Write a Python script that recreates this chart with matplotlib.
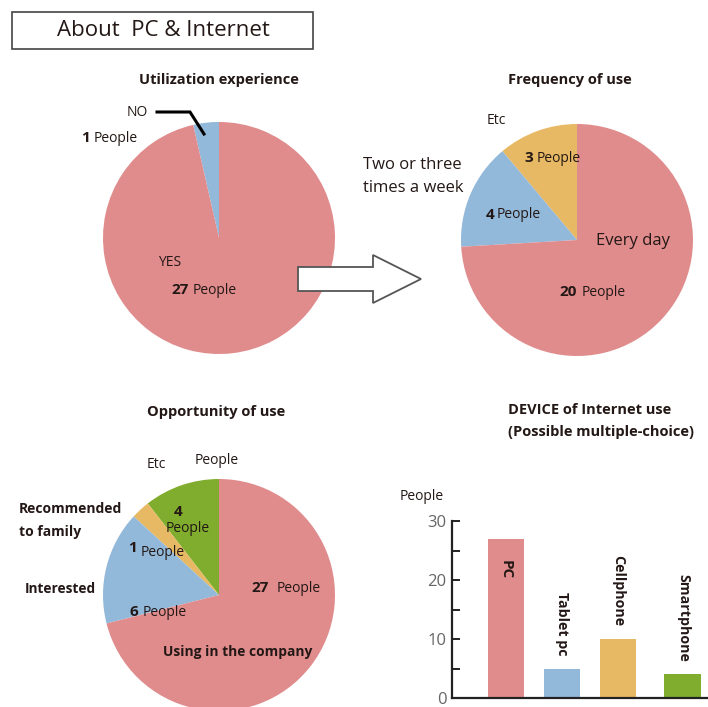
import matplotlib
matplotlib.use("Agg")
import matplotlib.pyplot as plt
from matplotlib.patches import Rectangle, Polygon

plt.rcParams["font.family"] = ["Open Sans", "DejaVu Sans"]

W, H = 708, 707

# --- data -------------------------------------------------------------
experience_labels = ["NO", "YES"]
experience_values = [1, 27]

frequency_labels = ["Etc", "Two or three times a week", "Every day"]
frequency_values = [3, 4, 20]

opportunity_labels = ["Etc", "Recommended to family", "Interested", "Using in the company"]
opportunity_values = [4, 1, 6, 27]

device_labels = ["PC", "Tablet pc", "Cellphone", "Smartphone"]
device_values = [27, 5, 10, 4]

RED, BLUE, YELLOW, GREEN = "#E08C8D", "#92B8DA", "#E7B964", "#80AD2D"
TXT = "#231815"

fig = plt.figure(figsize=(W / 100, H / 100), dpi=100)


def box(x0, y0, w, h):
    """Axes rectangle from pixel box (top-left origin)."""
    return [x0 / W, 1 - (y0 + h) / H, w / W, h / H]


def pie_axes(cx, cy, r, values, colors):
    ax = fig.add_axes(box(cx - r, cy - r, 2 * r, 2 * r))
    ax.pie(values, colors=colors, startangle=90, counterclock=True,
           radius=1, wedgeprops=dict(linewidth=0))
    ax.set_xlim(-1, 1)
    ax.set_ylim(-1, 1)
    ax.set_aspect("equal")
    ax.axis("off")
    return ax


pie_axes(219, 238, 116, experience_values, [BLUE, RED])
pie_axes(577, 240, 116, frequency_values, [YELLOW, BLUE, RED])
pie_axes(219, 595, 116, opportunity_values, [GREEN, YELLOW, BLUE, RED])

# --- bar chart ----------------------------------------------------------
bar_pos = [0, 1, 2, 3.16]
bx = fig.add_axes(box(452, 521, 256, 177))
bx.bar(bar_pos, device_values, width=0.66, color=[RED, BLUE, YELLOW, GREEN])
bx.set_xlim(-0.964, 3.607)
bx.set_ylim(0, 30)
bx.set_yticks([0, 10, 20, 30])
bx.set_yticks([5, 15, 25], minor=True)
bx.set_xticks([])
for s in ("top", "right"):
    bx.spines[s].set_visible(False)
for s in ("left", "bottom"):
    bx.spines[s].set_linewidth(1.6)
    bx.spines[s].set_color("#222222")
bx.spines["bottom"].set_clip_on(False)
bx.tick_params(axis="y", which="both", direction="in", length=6, width=1.4,
               color="#222222", labelsize=12, labelcolor="#666666", pad=4)
bx.patch.set_alpha(0)
for i, (lab, v) in enumerate(zip(device_labels, device_values)):
    if i == 0:
        bx.annotate(lab, (bar_pos[i], v), xytext=(0, -15), textcoords="offset points",
                    rotation=-90, ha="center", va="top", fontsize=11,
                    fontweight="bold", color=TXT)
    else:
        bx.annotate(lab, (bar_pos[i], v), xytext=(0, 9), textcoords="offset points",
                    rotation=-90, ha="center", va="bottom", fontsize=10.2,
                    fontweight="bold", color=TXT)

# --- overlay for titles, labels and decorations ------------------------
ov = fig.add_axes([0, 0, 1, 1], zorder=10)
ov.set_xlim(0, W)
ov.set_ylim(H, 0)
ov.axis("off")


def t(x, y, s, size=10, bold=False, ha="left", **kw):
    ov.text(x, y, s, fontsize=size, fontweight="bold" if bold else "normal",
            ha=ha, va="center", color=TXT, **kw)


def num_people(x, y, n, gap=4, nsize=11, psize=10):
    """Bold number followed by 'People', number right-aligned at x."""
    ov.text(x, y, str(n), fontsize=nsize, fontweight="bold", ha="right",
            va="center", color=TXT)
    ov.text(x + gap, y, "People", fontsize=psize, ha="left", va="center", color=TXT)


# title box
ov.add_patch(Rectangle((12, 12), 301, 37, fill=False, edgecolor="#444444", lw=1.2))
t(163, 31, "About  PC & Internet", size=16, ha="center")

# section titles
t(219, 80, "Utilization experience", size=10.5, bold=True, ha="center")
t(570, 80, "Frequency of use", size=10.5, bold=True, ha="center")
t(216, 412, "Opportunity of use", size=10.5, bold=True, ha="center")
t(508, 410, "DEVICE of Internet use", size=10.5, bold=True)
t(508, 432, "(Possible multiple-choice)", size=10.5, bold=True)

# pie 1 labels
t(127, 112, experience_labels[0], size=10)
ov.plot([157, 190, 204], [112, 112, 134], color="black", lw=2.2,
        solid_joinstyle="miter")
num_people(90, 138, experience_values[0])
t(170, 262, experience_labels[1], size=10, ha="center")
num_people(189, 290, experience_values[1])

# arrow
ov.add_patch(Polygon([(298, 267), (373, 267), (373, 255), (421, 279),
                      (373, 303), (373, 291), (298, 291)],
                     closed=True, facecolor="white", edgecolor="#555555", lw=1.3))

# pie 2 labels
t(487, 121, frequency_labels[0], size=10)
t(363, 165, "Two or three", size=12)
t(363, 188, "times a week", size=12)
num_people(533, 158, frequency_values[0])
num_people(494, 215, frequency_values[1], gap=3)
t(596, 241, frequency_labels[2], size=12)
num_people(577, 292, frequency_values[2], gap=5)

# pie 3 labels
t(147, 465, opportunity_labels[0], size=10)
t(195, 460, "People", size=10)
t(19, 509, "Recommended", size=10, bold=True)
t(19, 532, "to family", size=10, bold=True)
t(178, 512, str(opportunity_values[0]), size=11, bold=True, ha="center")
t(166, 529, "People", size=10)
t(137, 548, str(opportunity_values[1]), size=11, bold=True, ha="right")
t(141, 552, "People", size=10)
t(25, 589, opportunity_labels[2], size=9.8, bold=True)
num_people(138, 612, opportunity_values[2], gap=5)
num_people(269, 588, opportunity_values[3], gap=8)
t(163, 652, opportunity_labels[3], size=9.9, bold=True)

# bar chart unit label
t(400, 497, "People", size=10)

fig.savefig("out.png", dpi=100)
